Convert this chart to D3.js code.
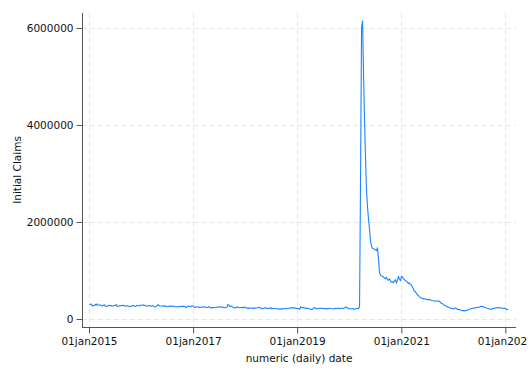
<!DOCTYPE html>
<html><head><meta charset="utf-8">
<script src="https://cdn.jsdelivr.net/npm/d3@7"></script>
<style>
html,body{margin:0;padding:0;background:#fff;}
svg{display:block;font-family:"DejaVu Sans",sans-serif;}
</style></head>
<body><svg id="c" width="528" height="384"></svg>
<script>
// Weekly initial claims (thousands), weeks ending Saturday, starting 2015-01-03
const claims2015=[294,298,307,268,279,278,304,283,313,291,282,291,282,268,281,295,262,265,264,274,282,276,279,267,271,277,281,297,255,267,270,274,277,272,282,277,264,267,276,263,262,255,260,276,276,271,260,269,282,272,267,287];
const claims2016=[277,284,293,278,285,269,262,272,278,267,265,276,267,253,248,257,274,294,278,268,267,269,264,277,259,268,254,253,266,269,266,262,263,261,255,254,252,249,256,259,261,253,261,265,254,235,252,259,268,258,254,275,265];
const claims2017=[249,236,253,254,247,235,241,242,244,244,248,250,238,235,244,257,238,228,236,235,232,237,242,246,242,248,250,245,244,240,243,232,236,244,298,284,259,260,261,244,225,232,240,233,249,239,231,236,236,227,246,245];
const claims2018=[233,222,233,216,230,223,221,230,212,226,229,227,231,242,233,233,210,214,223,232,221,228,218,216,227,233,208,215,220,216,212,213,210,204,203,203,208,214,210,212,215,213,217,223,222,231,229,235,224,234,218,220];
const claims2019=[218,214,200,253,234,234,239,227,216,228,221,216,212,203,195,202,230,230,224,212,217,218,221,222,228,217,219,207,216,214,216,211,221,215,212,211,206,213,219,215,218,226,211,217,221,228,213,231,251,236,222,223];
const claims2020=[214,207,212,216,203,205,211,219,216,211,251,2920,6000,6149,5050,4100,3300,2650,2300,2060,1850,1620,1500,1460,1450,1440,1430,1410,1470,1240,960,905,890,880,865,845,830,860,810,800,830,790,760,770,745,790,810,740,800,880,820,790];
const claims2021=[880,870,830,810,790,780,760,730,740,720,700,660,620,570,560,530,500,480,460,445,435,425,420,412,418,405,400,395,410,392,388,380,375,372,368,372,370,368,365,345,325,318,300,285,272,262,250,245,232,225,218,220];
const claims2022=[205,215,230,220,200,190,195,185,180,175,172,168,172,180,178,190,195,205,210,220,225,220,232,235,238,240,245,255,262,258,250,242,235,228,220,215,205,200,195,210,225,218,225,230,235,232,228,235,225,222,218,225,215];
const claims2023=[205,190,188];
const firstWeek="2015-01-03";
const xTickDates=["2015-01-01","2017-01-01","2019-01-01","2021-01-01","2023-01-01"];
const yTickValues=[0,2000000,4000000,6000000];
const xTitle="numeric (daily) date";
const yTitle="Initial Claims";

const parse=d3.utcParse("%Y-%m-%d");
const all=[].concat(claims2015,claims2016,claims2017,claims2018,claims2019,claims2020,claims2021,claims2022,claims2023);
const start=parse(firstWeek);
const data=all.map((v,i)=>({date:d3.utcDay.offset(start,7*i),value:v*1000}));

const L=82,R=516,T=13,B=327;
const x=d3.scaleUtc().domain([parse("2014-11-13"),parse("2023-03-17")]).range([L,R]);
const y=d3.scaleLinear().domain([-165000,6309000]).range([B,T]);

const svg=d3.select("#c");
const fmt=d3.utcFormat("%d%b%Y");

// grid
const g=svg.append("g");
g.selectAll(".hg").data(yTickValues).join("line")
 .attr("x1",L).attr("x2",R).attr("y1",d=>Math.round(y(d))+0.5).attr("y2",d=>Math.round(y(d))+0.5)
 .attr("stroke","#e6e6e6").attr("stroke-width",1).attr("stroke-dasharray","5,3");
g.selectAll(".vg").data(xTickDates.map(parse)).join("line")
 .attr("y1",T).attr("y2",B).attr("x1",d=>Math.round(x(d))+0.5).attr("x2",d=>Math.round(x(d))+0.5)
 .attr("stroke","#e6e6e6").attr("stroke-width",1).attr("stroke-dasharray","5,3");

// line
svg.append("path").datum(data)
 .attr("fill","none").attr("stroke","#1a85ff").attr("stroke-width",1.1).attr("stroke-linejoin","round")
 .attr("d",d3.line().x(d=>x(d.date)).y(d=>y(d.value)));

// axes
const yAxis=d3.axisLeft(y).tickValues(yTickValues).tickFormat(d3.format("d")).tickSize(6).tickPadding(3);
const ya=svg.append("g").attr("transform",`translate(${L+0.5},0)`).call(yAxis);
const xAxis=d3.axisBottom(x).tickValues(xTickDates.map(parse)).tickFormat(d=>fmt(d).toLowerCase()).tickSize(6).tickPadding(4);
const xa=svg.append("g").attr("transform",`translate(0,${B+0.5})`).call(xAxis);
[ya,xa].forEach(a=>{
  a.select(".domain").attr("stroke","#555").attr("d",null);
  a.selectAll(".tick line").attr("stroke","#555");
  a.selectAll(".tick text").attr("fill","#111").style("font-size","10.5px").style("font-family","DejaVu Sans");
});
ya.select(".domain").attr("d",`M0,${T}V${B}`);
xa.select(".domain").attr("d",`M${L},0H${R}`);

svg.append("text").attr("x",(L+R)/2).attr("y",362).attr("text-anchor","middle")
 .style("font-size","10.5px").attr("fill","#111").text(xTitle);
svg.append("text").attr("transform",`translate(21,${(T+B)/2}) rotate(-90)`).attr("text-anchor","middle")
 .style("font-size","10.5px").attr("fill","#111").text(yTitle);
</script></body></html>
